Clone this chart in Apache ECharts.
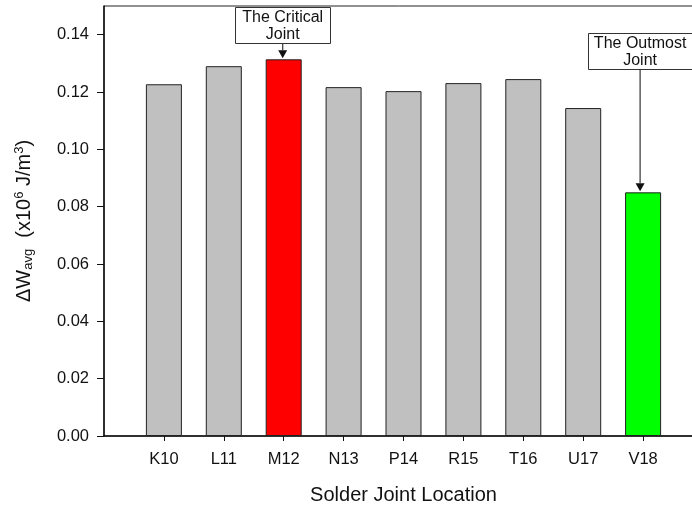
<!DOCTYPE html>
<html>
<head>
<meta charset="utf-8">
<script src="https://cdn.jsdelivr.net/npm/echarts@6/dist/echarts.min.js"></script>
<style>
  html, body { margin: 0; padding: 0; background: #fff; }
  #chart { width: 692px; height: 510px; }
</style>
</head>
<body>
<div id="chart"></div>
<script>
// Solder joint locations along the diagonal, with a blank slot at each end of the axis
const joints = ['K10', 'L11', 'M12', 'N13', 'P14', 'R15', 'T16', 'U17', 'V18'];
// Average strain energy density increment per joint (x10^6 J/m^3)
const deltaW = [0.1227, 0.1290, 0.1314, 0.1217, 0.1203, 0.1231, 0.1245, 0.1144, 0.0850];
// Fill colour per joint: the critical joint red, the outmost joint green
const barColors = ['#c0c0c0', '#c0c0c0', '#ff0000', '#c0c0c0', '#c0c0c0', '#c0c0c0', '#c0c0c0', '#c0c0c0', '#00ff00'];
const yTicks = [0, 0.02, 0.04, 0.06, 0.08, 0.10, 0.12, 0.14];
// Callouts: which joint they point at and their text
const callouts = [
  { joint: 'M12', lines: ['The Critical', 'Joint'] },
  { joint: 'V18', lines: ['The Outmost', 'Joint'] }
];

const axisCats = [''].concat(joints, ['']);
const barData = ['-'].concat(deltaW.map((v, i) => ({ value: v, itemStyle: { color: barColors[i] } })), ['-']);

const FONT = 'Liberation Sans, Arial, sans-serif';
const chart = echarts.init(document.getElementById('chart'), null, { renderer: 'canvas' });

chart.setOption({
  animation: false,
  backgroundColor: '#ffffff',
  // the plot frame runs past the right edge of the canvas
  grid: {
    left: 104, width: 599, top: 6, bottom: 74,
    outerBoundsMode: 'none',
    containLabel: false,
    show: true, borderColor: '#222', borderWidth: 1, backgroundColor: 'transparent'
  },
  xAxis: {
    type: 'category',
    data: axisCats,
    boundaryGap: false,
    name: 'Solder Joint Location',
    nameLocation: 'middle',
    nameGap: 49,
    nameTextStyle: { fontFamily: FONT, fontSize: 20, color: '#111' },
    axisLine: { lineStyle: { color: '#111', width: 1.5 } },
    axisTick: {
      inside: false, length: 5,
      interval: (i) => i > 0 && i < axisCats.length - 1,
      lineStyle: { color: '#111', width: 1 }
    },
    axisLabel: { interval: 0, margin: 15, fontFamily: FONT, fontSize: 16.5, color: '#111' },
    splitLine: { show: false }
  },
  yAxis: {
    type: 'value',
    min: 0, max: 0.15, interval: 0.02,
    name: '{n|ΔW}{sub|avg}{n|  (x10}{sup|6}{n| J/m}{sup|3}{n|)}',
    nameLocation: 'middle',
    nameGap: 69,
    nameRotate: 90,
    nameTextStyle: {
      rich: {
        n: { fontFamily: FONT, fontSize: 20, color: '#111' },
        sub: { fontFamily: FONT, fontSize: 13, color: '#111', verticalAlign: 'bottom', padding: [9, 0, 0, 0] },
        sup: { fontFamily: FONT, fontSize: 13, color: '#111', verticalAlign: 'top', padding: [0, 0, 9, 0] }
      }
    },
    axisLine: { show: true, lineStyle: { color: '#111', width: 1.5 } },
    axisTick: { show: true, inside: false, length: 7, lineStyle: { color: '#111' } },
    axisLabel: {
      margin: 15, fontFamily: FONT, fontSize: 16.5, color: '#111',
      showMaxLabel: false,
      formatter: (v) => (yTicks.some(t => Math.abs(t - v) < 1e-9) ? v.toFixed(2) : '')
    },
    splitLine: { show: false }
  },
  series: [{
    type: 'bar',
    data: barData,
    barWidth: 36,
    itemStyle: { borderColor: '#222', borderWidth: 1 },
    emphasis: { disabled: true }
  }]
});

// Callout boxes with arrows pointing at the bar tops
function drawCallouts() {
  const elements = [];
  callouts.forEach((c) => {
    const idx = joints.indexOf(c.joint);
    const top = chart.convertToPixel({ xAxisIndex: 0, yAxisIndex: 0 }, [idx + 1, deltaW[idx]]);
    const isFirst = c.joint === 'M12';
    const boxW = isFirst ? 95 : 105;
    const boxH = 36;
    const boxTop = isFirst ? 7 : 33;
    const cx = isFirst ? top[0] - 1 : top[0] - 3;
    const boxBottom = boxTop + boxH;
    elements.push({
      type: 'rect',
      shape: { x: Math.round(cx - boxW / 2) + 0.5, y: boxTop + 0.5, width: boxW, height: boxH },
      style: { fill: '#fff', stroke: '#333', lineWidth: 1 },
      z: 10
    });
    elements.push({
      type: 'text',
      style: {
        x: cx, y: boxTop + boxH / 2 + 1,
        text: c.lines.join('\n'),
        align: 'center', verticalAlign: 'middle',
        font: '16px ' + FONT, fill: '#111', lineHeight: 17
      },
      z: 11
    });
    const tipY = top[1] - 1;
    const headH = 8;
    elements.push({
      type: 'line',
      shape: { x1: cx, y1: boxBottom, x2: cx, y2: tipY - headH },
      style: { stroke: '#333', lineWidth: 1.2 },
      z: 10
    });
    elements.push({
      type: 'polygon',
      shape: { points: [[cx - 4.5, tipY - headH], [cx + 4.5, tipY - headH], [cx, tipY]] },
      style: { fill: '#111' },
      z: 10
    });
  });
  chart.setOption({ graphic: elements });
}
drawCallouts();
</script>
</body>
</html>
